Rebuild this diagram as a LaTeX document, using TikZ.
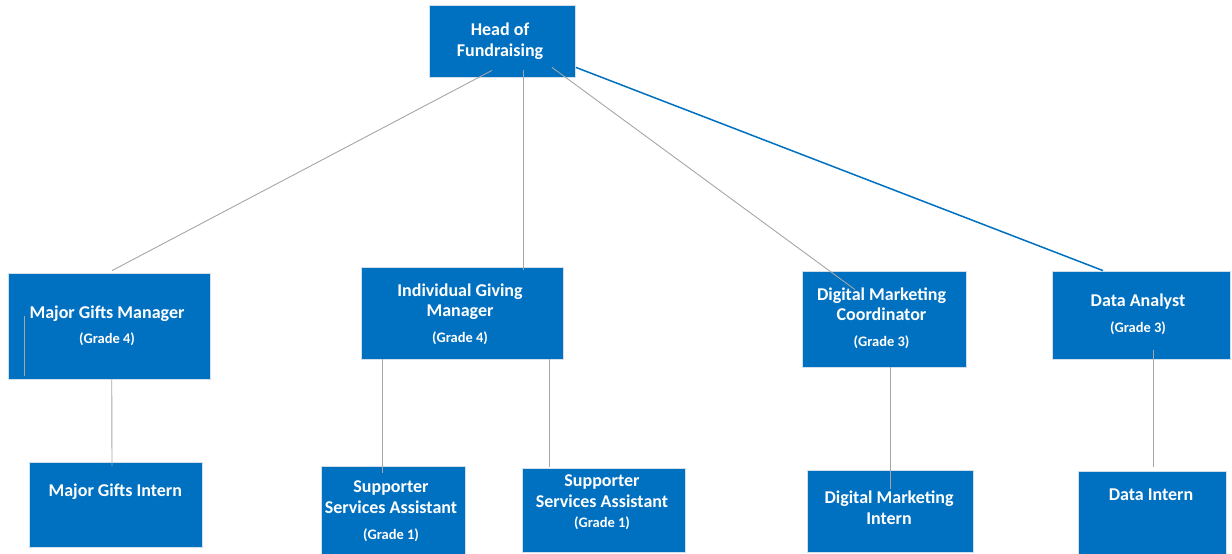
\documentclass[tikz,border=0pt]{standalone}
\usepackage{fontspec}
\setmainfont{Carlito}
\definecolor{boxblue}{HTML}{0070C0}
\definecolor{boxedge}{HTML}{D3DEEB}
\definecolor{linkgray}{HTML}{A6A6A6}
\begin{document}
\begin{tikzpicture}[x=1pt,y=-1pt,
  post/.style={rectangle, draw=boxedge, line width=0.8pt, fill=boxblue, inner sep=0pt},
  ttl/.style={anchor=base, inner sep=0pt, text=white, font=\fontsize{18}{21}\selectfont\bfseries},
  grd/.style={anchor=base, inner sep=0pt, text=white, font=\fontsize{14.5}{17}\selectfont\bfseries},
  link/.style={draw=linkgray, line width=0.9pt},
  keylink/.style={draw=boxblue, line width=1.5pt}]
\useasboundingbox (0,0) rectangle (1232,554);
\clip (0,0) rectangle (1232,554);

% position boxes
\node[post, minimum width=146pt,   minimum height=71.5pt] (head) at (502.5,41.25) {};
\node[post, minimum width=201.5pt, minimum height=106pt]  (mgm)  at (109.25,326) {};
\node[post, minimum width=202pt,   minimum height=91.5pt] (igm)  at (462,313.25) {};
\node[post, minimum width=164pt,   minimum height=96pt]   (dmc)  at (884,319) {};
\node[post, minimum width=178.5pt, minimum height=88pt]   (da)   at (1141.25,315) {};
\node[post, minimum width=173pt,   minimum height=85pt]   (mgi)  at (115.5,504.5) {};
\node[post, minimum width=144pt,   minimum height=90pt]   (ssa1) at (393.5,511) {};
\node[post, minimum width=163pt,   minimum height=84pt]   (ssa2) at (604,510.5) {};
\node[post, minimum width=166pt,   minimum height=82pt]   (dmi)  at (890,511) {};
\node[post, minimum width=148.5pt, minimum height=85pt]   (di)   at (1152.25,513.5) {};

% reporting lines
\draw[link] ([xshift=-10.5pt,yshift=7pt]head.south) -- ([xshift=2.75pt,yshift=2pt]mgm.north);
\draw[link] ([xshift=21pt,yshift=7pt]head.south) -- ([xshift=61.5pt,yshift=-2.5pt]igm.north);
\draw[link] ([xshift=49.5pt,yshift=10pt]head.south) -- ([xshift=-29pt,yshift=-19pt]dmc.north);
\draw[keylink] ([yshift=10pt]head.south east) -- ([xshift=-38.25pt]da.north);
\draw[link] ([xshift=16.5pt,yshift=10pt]mgm.west) -- ([xshift=16.5pt,yshift=-50pt]mgm.west);
\draw[link] ([xshift=2.5pt]mgm.south) -- ([xshift=-3.5pt,yshift=-4.5pt]mgi.north);
\draw[link] ([xshift=-79.5pt]igm.south) -- ([xshift=-11pt,yshift=-7.5pt]ssa1.north);
\draw[link] ([xshift=87pt]igm.south) -- ([xshift=-55pt,yshift=1pt]ssa2.north);
\draw[link] ([xshift=6pt]dmc.south) -- ([yshift=-19.5pt]dmi.north);
\draw[link] ([xshift=12.5pt,yshift=9pt]da.south) -- ([xshift=1.5pt,yshift=4pt]di.north);

% position titles
\node[ttl] (head-a) at (500,35.7)  {Head of};
\node[ttl] (head-b) at (500,56)    {Fundraising};
\node[ttl] (mgm-a)  at (107,318.3) {Major Gifts Manager};
\node[grd] (mgm-g)  at (107,343.3) {(Grade 4)};
\node[ttl] (igm-a)  at (460,296)   {Individual Giving};
\node[ttl] (igm-b)  at (460,316.5) {Manager};
\node[grd] (igm-g)  at (460,342.7) {(Grade 4)};
\node[ttl] (dmc-a)  at (881.5,300) {Digital Marketing};
\node[ttl] (dmc-b)  at (881.5,320.7) {Coordinator};
\node[grd] (dmc-g)  at (881.5,346) {(Grade 3)};
\node[ttl] (da-a)   at (1138,306.7) {Data Analyst};
\node[grd] (da-g)   at (1138,332.7) {(Grade 3)};
\node[ttl] (mgi-a)  at (115.3,496.7) {Major Gifts Intern};
\node[ttl] (ssa1-a) at (391,492.7) {Supporter};
\node[ttl] (ssa1-b) at (391,513.3) {Services Assistant};
\node[grd] (ssa1-g) at (391,539.3) {(Grade 1)};
\node[ttl] (ssa2-a) at (602,486)   {Supporter};
\node[ttl] (ssa2-b) at (602,507.3) {Services Assistant};
\node[grd] (ssa2-g) at (602,527.7) {(Grade 1)};
\node[ttl] (dmi-a)  at (889,503.3) {Digital Marketing};
\node[ttl] (dmi-b)  at (889,524)   {Intern};
\node[ttl] (di-a)   at (1151,500)  {Data Intern};
\end{tikzpicture}
\end{document}
